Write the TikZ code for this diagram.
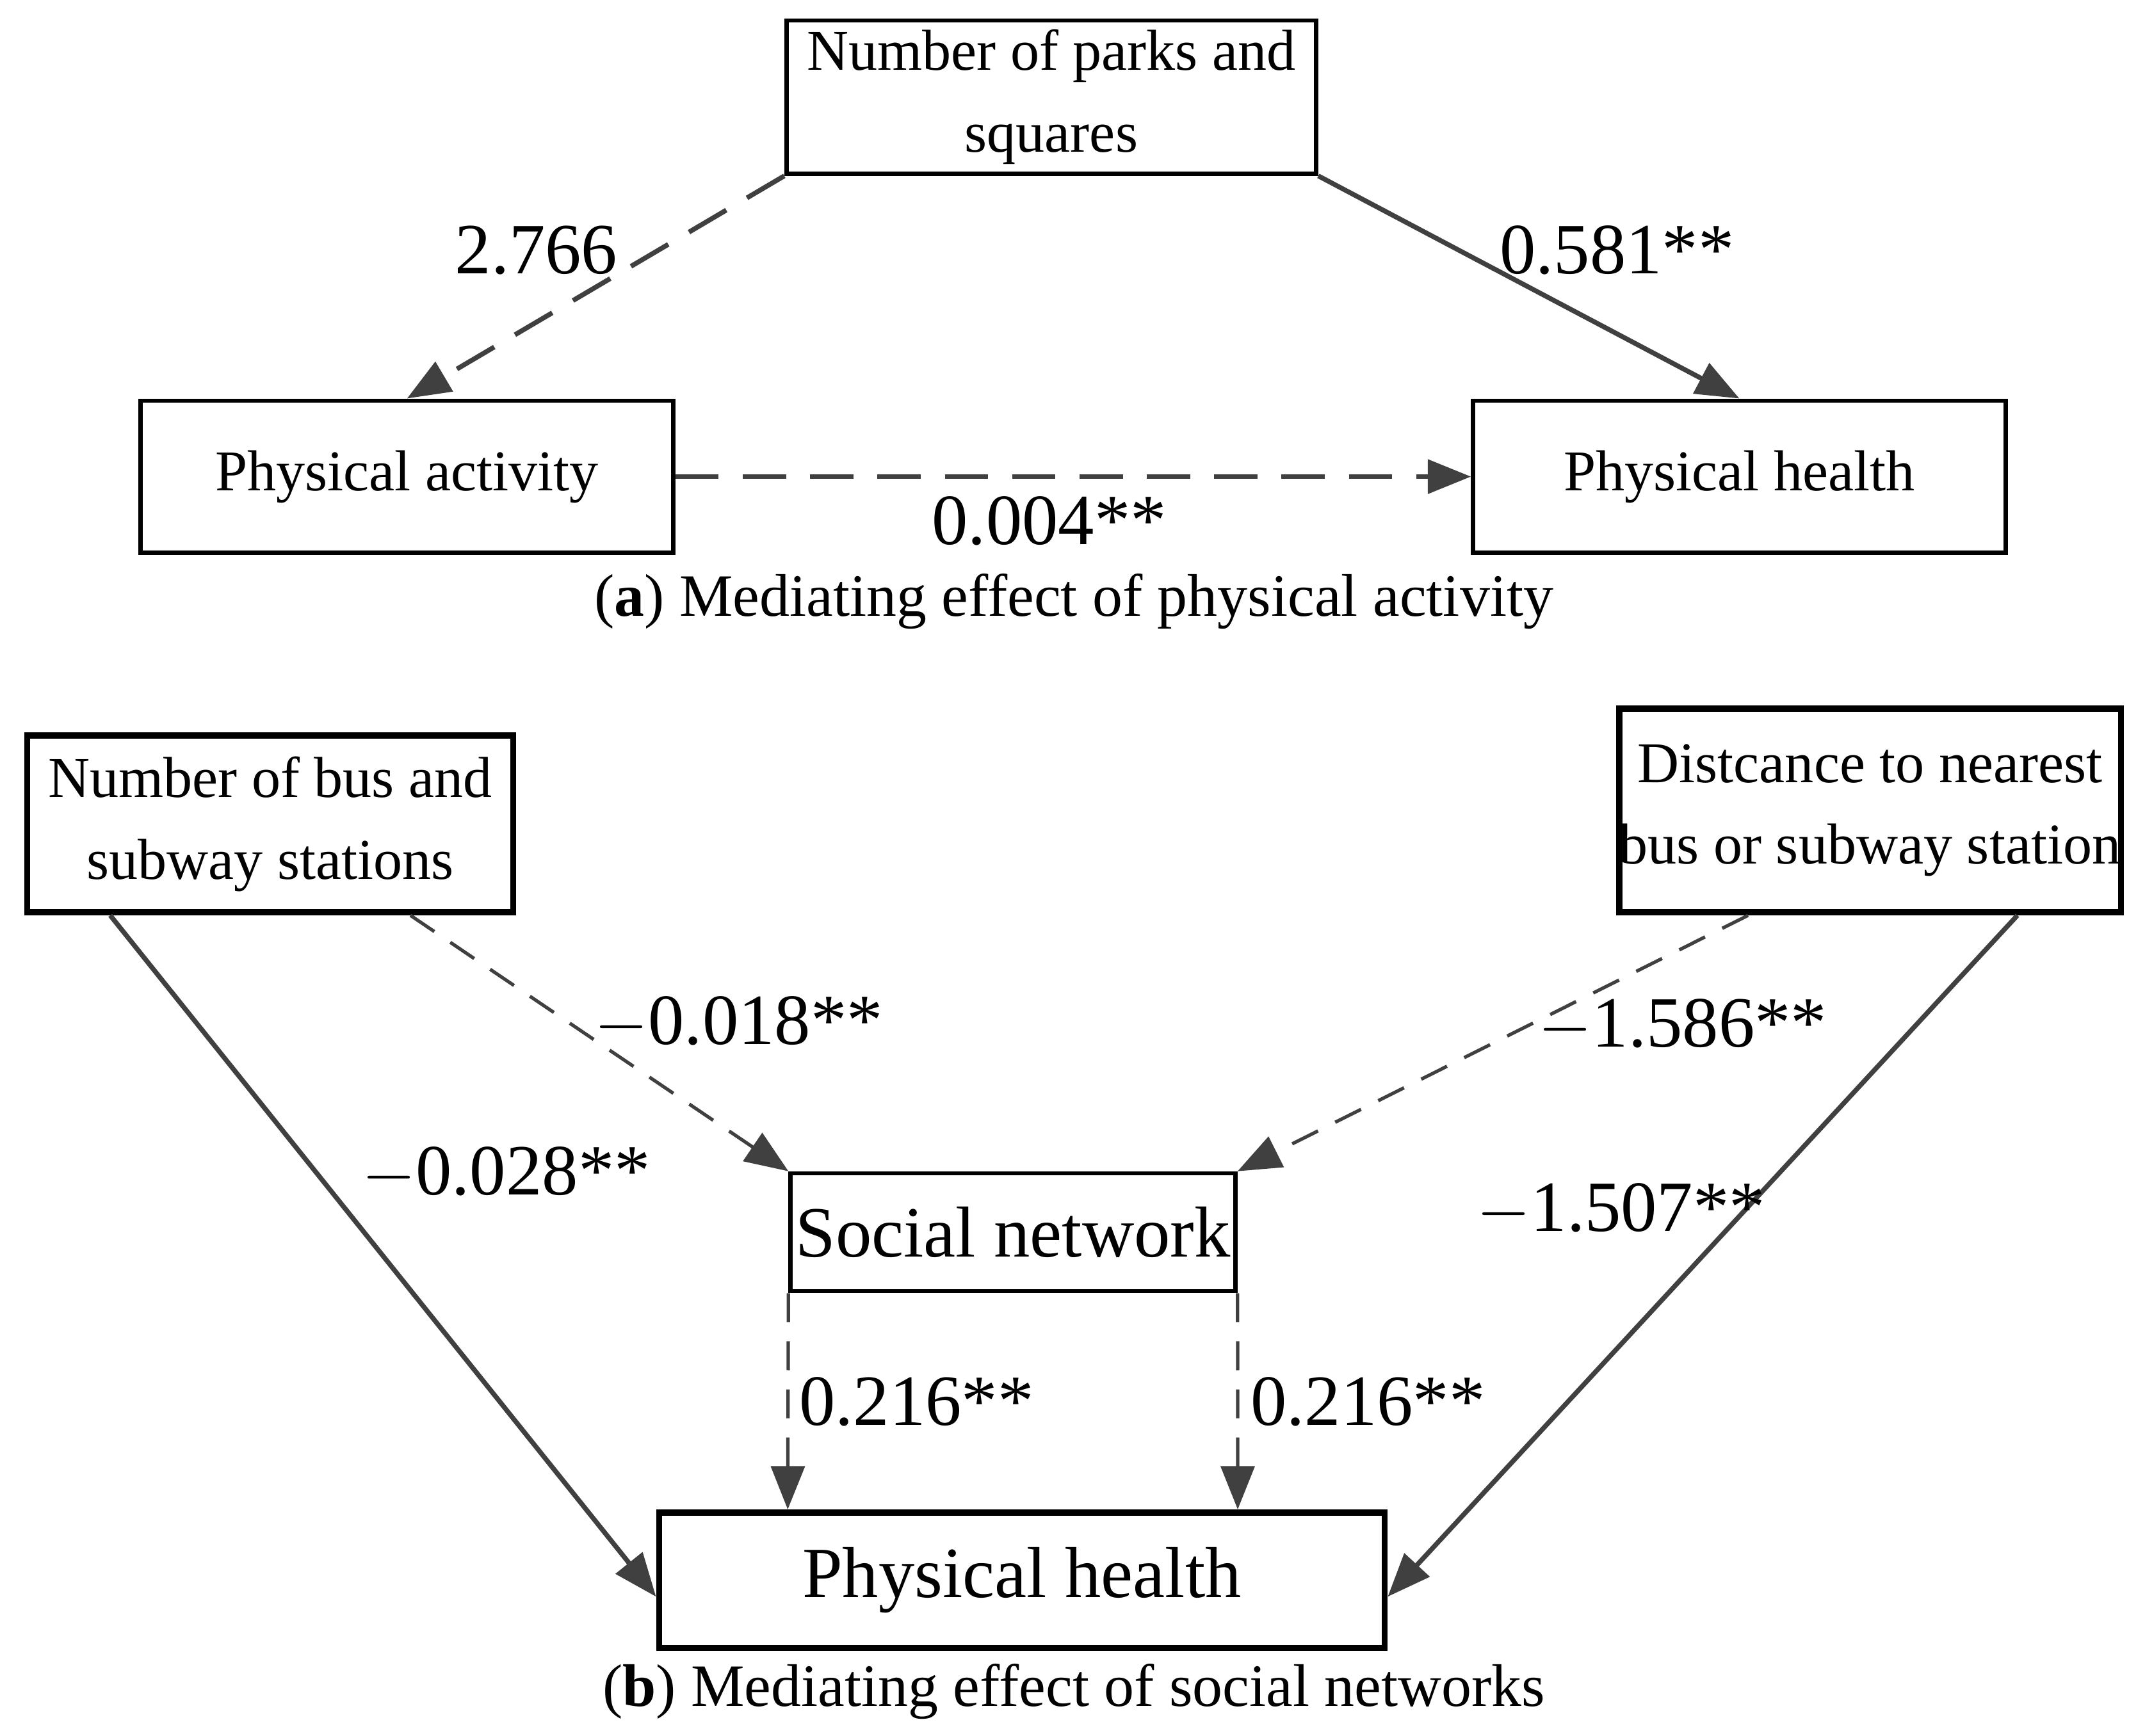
\documentclass[tikz,border=0pt]{standalone}
\usepackage{fontspec}
\setmainfont{Liberation Serif}
\usetikzlibrary{arrows.meta,calc}
\definecolor{ln}{HTML}{404040}
\tikzset{box/.style={draw=black,line width=0.9pt,rectangle,align=center,inner sep=0pt},
         bbox/.style={box,line width=1.3pt},
         lab/.style={font=\fontsize{15}{17}\selectfont},
         arr/.style={draw=ln,line width=1pt,-{Triangle[length=9pt,width=7pt]}},
         dsh/.style={arr,dash pattern=on 9pt off 5pt},
         dsh2/.style={arr,line width=0.7pt,dash pattern=on 6pt off 4pt}}
\begin{document}
\begin{tikzpicture}[x=0.01cm,y=-0.01cm]
\useasboundingbox (0,0) rectangle (1568,1269);
\fontsize{12}{17}\selectfont
% (a)
\node[box,minimum width=3.87cm,minimum height=1.12cm] (parks) at (768.5,71) {Number of parks and\\squares};
\node[box,minimum width=3.89cm,minimum height=1.11cm] (act) at (297.5,348.5) {Physical activity};
\node[box,minimum width=3.89cm,minimum height=1.11cm] (healtha) at (1271.5,348.5) {Physical health};
\draw[dsh] (parks.south west) -- (act.north);
\draw[arr] (parks.south east) -- (healtha.north);
\draw[dsh] (act.east) -- (healtha.west);
\node[lab] (la1) at (392,183) {2.766};
\node[lab] (la2) at (1182,183) {0.581**};
\node[lab] (la3) at (767,381) {0.004**};
\node[lab,font=\fontsize{12.5}{15}\selectfont] (capa) at (785,440) {(\textbf{a}) Mediating effect of physical activity};
% (b)
\node[bbox,minimum width=3.55cm,minimum height=1.29cm] (bus) at (197.5,602.5) {Number of bus and\\subway stations};
\node[bbox,minimum width=3.66cm,minimum height=1.49cm] (dist) at (1367,592.5) {Distcance to nearest\\bus or subway station};
\node[box,minimum width=3.25cm,minimum height=0.86cm,font=\fontsize{15}{17}\selectfont] (soc) at (740.5,901) {Social network};
\node[bbox,minimum width=5.3cm,minimum height=0.99cm,font=\fontsize{15}{17}\selectfont] (healthb) at (747,1155.5) {Physical health};
\coordinate (b1) at ($(bus.south west)!0.175!(bus.south east)$);
\coordinate (b2) at ($(bus.south west)!0.785!(bus.south east)$);
\coordinate (d1) at ($(dist.south west)!0.26!(dist.south east)$);
\coordinate (d2) at ($(dist.south west)!0.79!(dist.south east)$);
\coordinate (h1) at ($(healthb.north west)!0.18!(healthb.north east)$);
\coordinate (h2) at ($(healthb.north west)!0.795!(healthb.north east)$);
\draw[arr] (b1) -- ([yshift=-0.12cm]healthb.west);
\draw[dsh2] (b2) -- (soc.north west);
\draw[dsh2] (d1) -- (soc.north east);
\draw[arr] (d2) -- ([yshift=-0.12cm]healthb.east);
\draw[dsh2] (soc.south west) -- (h1);
\draw[dsh2] (soc.south east) -- (h2);
\node[lab] (lb1) at (540,748) {$-$0.018**};
\node[lab] (lb2) at (370,858) {$-$0.028**};
\node[lab] (lb3) at (1230,750) {$-$1.586**};
\node[lab] (lb4) at (1185,885) {$-$1.507**};
\node[lab] (lb5) at (670,1025) {0.216**};
\node[lab] (lb6) at (1000,1025) {0.216**};
\node[lab,font=\fontsize{12.5}{15}\selectfont] (capb) at (785,1237) {(\textbf{b}) Mediating effect of social networks};
\end{tikzpicture}
\end{document}
